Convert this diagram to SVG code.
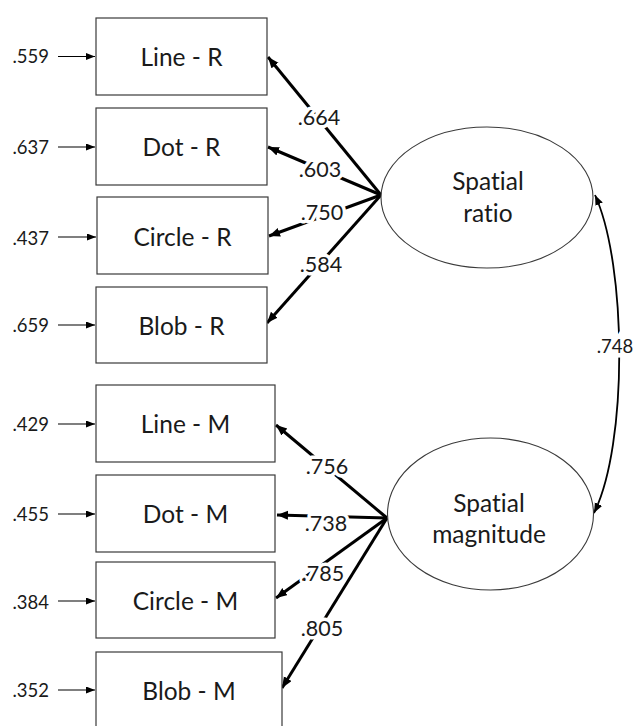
<svg xmlns="http://www.w3.org/2000/svg" width="635" height="726" viewBox="0 0 635 726">
  <style>
    text { font-family: Lato, "Noto Sans", sans-serif; fill: #1a1a1a; dominant-baseline: central; font-variant-ligatures: none; font-feature-settings: "liga" 0; }
    .box { fill: #fff; stroke: #3a3a3a; stroke-width: 1.2; }
    .lat { fill: #fff; stroke: #3a3a3a; stroke-width: 1.1; }
    .name { font-size: 24.5px; text-anchor: middle; }
    .err { font-size: 18.5px; text-anchor: end; }
    .load { font-size: 21.5px; text-anchor: middle; stroke: #fff; stroke-width: 7px; paint-order: stroke; stroke-linejoin: round; }
    .cov { font-size: 18.5px; text-anchor: middle; stroke: #fff; stroke-width: 9px; paint-order: stroke; }
    .thick { stroke: #000; stroke-width: 3; fill: none; marker-end: url(#headBig); }
    .thin { stroke: #000; stroke-width: 1.1; fill: none; marker-end: url(#headSmall); }
    .curve { stroke: #000; stroke-width: 1.8; fill: none; marker-start: url(#headMid); marker-end: url(#headMid); }
  </style>
  <defs>
    <marker id="headBig" markerUnits="userSpaceOnUse" markerWidth="12" markerHeight="10" refX="11" refY="4.5" orient="auto">
      <path d="M0,0 L11,4.5 L0,9 z" fill="#000"/>
    </marker>
    <marker id="headSmall" markerUnits="userSpaceOnUse" markerWidth="10" markerHeight="8" refX="9" refY="3.5" orient="auto">
      <path d="M0,0 L9,3.5 L0,7 z" fill="#000"/>
    </marker>
    <marker id="headMid" markerUnits="userSpaceOnUse" markerWidth="11" markerHeight="9" refX="10" refY="4" orient="auto-start-reverse">
      <path d="M0,0 L10,4 L0,8 z" fill="#000"/>
    </marker>
  </defs>

  <rect width="635" height="726" fill="#fff"/>

  <!-- connectors: error terms, loadings, covariance -->
  <g id="connectors">
    <line class="thin" x1="58" y1="56.5" x2="95" y2="56.5"/>
    <line class="thin" x1="58" y1="147" x2="95" y2="147"/>
    <line class="thin" x1="58" y1="237" x2="96" y2="237"/>
    <line class="thin" x1="58" y1="325" x2="95" y2="325"/>
    <line class="thin" x1="58" y1="424" x2="95" y2="424"/>
    <line class="thin" x1="58" y1="514" x2="95" y2="514"/>
    <line class="thin" x1="58" y1="601" x2="95" y2="601"/>
    <line class="thin" x1="58" y1="690" x2="95" y2="690"/>

    <line class="thick" x1="381" y1="195" x2="268" y2="57"/>
    <line class="thick" x1="381" y1="195" x2="268" y2="147"/>
    <line class="thick" x1="381" y1="195" x2="269" y2="236"/>
    <line class="thick" x1="381" y1="195" x2="267" y2="323"/>

    <line class="thick" x1="387" y1="518" x2="276" y2="425"/>
    <line class="thick" x1="387" y1="518" x2="277" y2="515"/>
    <line class="thick" x1="387" y1="518" x2="276" y2="598"/>
    <line class="thick" x1="387" y1="518" x2="282" y2="688"/>

    <path class="curve" d="M595,195 C627,265 628,445 594,513"/>

    <text class="load" x="319" y="117">.664</text>
    <text class="load" x="320" y="169">.603</text>
    <text class="load" x="322" y="212">.750</text>
    <text class="load" x="321" y="264">.584</text>
    <text class="load" x="327" y="466">.756</text>
    <text class="load" x="326" y="523">.738</text>
    <text class="load" x="323" y="573">.785</text>
    <text class="load" x="322" y="628">.805</text>
    <text class="cov" x="615" y="346">.748</text>
  </g>

  <!-- observed indicators -->
  <g id="line-r">
    <rect class="box" x="96" y="18" width="171" height="77"/>
    <text class="name" x="181.5" y="56">Line - R</text>
    <text class="err" x="49" y="56">.559</text>
  </g>
  <g id="dot-r">
    <rect class="box" x="96" y="108" width="171" height="77"/>
    <text class="name" x="181.5" y="146">Dot - R</text>
    <text class="err" x="49" y="147">.637</text>
  </g>
  <g id="circle-r">
    <rect class="box" x="97" y="197" width="171" height="77"/>
    <text class="name" x="182.5" y="236">Circle - R</text>
    <text class="err" x="49" y="238">.437</text>
  </g>
  <g id="blob-r">
    <rect class="box" x="96" y="287" width="171" height="76"/>
    <text class="name" x="181.5" y="325">Blob - R</text>
    <text class="err" x="49" y="325">.659</text>
  </g>
  <g id="line-m">
    <rect class="box" x="96" y="385" width="179" height="77"/>
    <text class="name" x="185.5" y="423">Line - M</text>
    <text class="err" x="49" y="424">.429</text>
  </g>
  <g id="dot-m">
    <rect class="box" x="96" y="475" width="179" height="77"/>
    <text class="name" x="185.5" y="513">Dot - M</text>
    <text class="err" x="49" y="514">.455</text>
  </g>
  <g id="circle-m">
    <rect class="box" x="96" y="562" width="179" height="76"/>
    <text class="name" x="185.5" y="600">Circle - M</text>
    <text class="err" x="49" y="602">.384</text>
  </g>
  <g id="blob-m">
    <rect class="box" x="96" y="652" width="186" height="80"/>
    <text class="name" x="189" y="690">Blob - M</text>
    <text class="err" x="49" y="690">.352</text>
  </g>

  <!-- latent factors -->
  <g id="spatial-ratio">
    <ellipse class="lat" cx="487" cy="197.5" rx="106" ry="70.5"/>
    <text class="name" x="488" y="180">Spatial</text>
    <text class="name" x="488" y="212">ratio</text>
  </g>
  <g id="spatial-magnitude">
    <ellipse class="lat" cx="490.5" cy="514" rx="103" ry="76"/>
    <text class="name" x="489" y="502">Spatial</text>
    <text class="name" x="489" y="533">magnitude</text>
  </g>
</svg>
